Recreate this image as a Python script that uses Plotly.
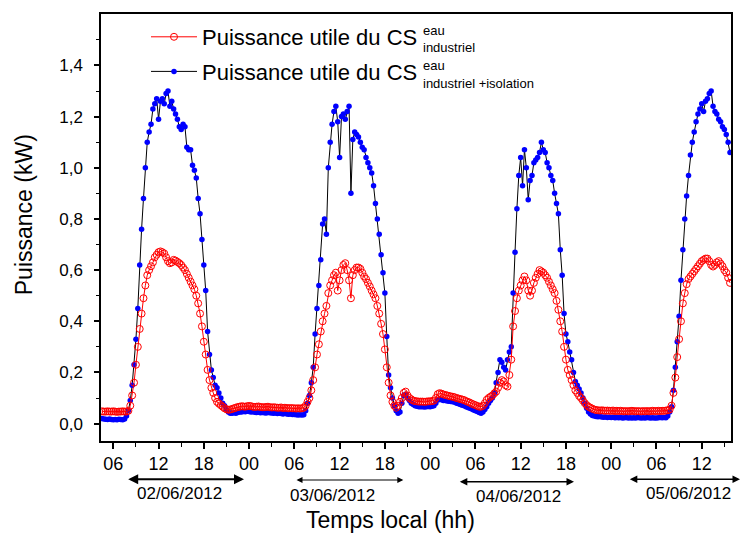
import numpy as np
import plotly.graph_objects as go

# ---------------- data (15-min samples, hours since 02/06/2012 00:00) ----------------
start_hour = 4.5
step_hour = 0.25

# Puissance utile du CS eau industriel + isolation (kW)
blue_isolation = [
    0.020, 0.018,                      # h4
    0.017, 0.016, 0.018, 0.016,        # h5
    0.015, 0.016, 0.015, 0.017,        # h6
    0.016, 0.015, 0.018, 0.030,        # h7
    0.050, 0.090, 0.150, 0.230,        # h8
    0.330, 0.450, 0.620, 0.760,        # h9
    0.880, 1.000, 1.100, 1.140,        # h10
    1.170, 1.230, 1.250, 1.270,        # h11
    1.190, 1.260, 1.270, 1.250,        # h12
    1.290, 1.300, 1.240, 1.260,        # h13
    1.230, 1.210, 1.190, 1.160,        # h14
    1.150, 1.170, 1.160, 1.080,        # h15
    1.070, 1.070, 1.010, 0.990,        # h16
    0.960, 0.880, 0.820, 0.720,        # h17
    0.620, 0.520, 0.360, 0.270,        # h18
    0.210, 0.180, 0.150, 0.140,        # h19
    0.120, 0.100, 0.080, 0.070,        # h20
    0.055, 0.045, 0.040, 0.040,        # h21
    0.042, 0.040, 0.043, 0.045,        # h22
    0.045, 0.047, 0.046, 0.048,        # h23
    0.047, 0.045, 0.046, 0.044,        # h24
    0.043, 0.044, 0.042, 0.043,        # h25
    0.042, 0.041, 0.043, 0.042,        # h26
    0.041, 0.040, 0.041, 0.039,        # h27
    0.040, 0.039, 0.038, 0.040,        # h28
    0.038, 0.037, 0.038, 0.036,        # h29
    0.036, 0.035, 0.034, 0.035,        # h30
    0.034, 0.035, 0.050, 0.080,        # h31
    0.110, 0.160, 0.220, 0.350,        # h32
    0.450, 0.540, 0.640, 0.780,        # h33
    0.800, 0.740, 1.000, 1.100,        # h34
    1.170, 1.220, 1.240, 1.180,        # h35
    1.040, 1.200, 1.210, 1.190,        # h36
    1.220, 1.240, 0.900, 1.110,        # h37
    1.140, 1.130, 1.120, 1.100,        # h38
    1.080, 1.070, 1.040, 1.020,        # h39
    1.000, 0.980, 0.930, 0.860,        # h40
    0.800, 0.740, 0.660, 0.590,        # h41
    0.510, 0.340, 0.190, 0.140,        # h42
    0.100, 0.070, 0.050, 0.040,        # h43
    0.045, 0.080, 0.110, 0.115,        # h44
    0.100, 0.090, 0.080, 0.075,        # h45
    0.070, 0.068, 0.066, 0.066,        # h46
    0.066, 0.065, 0.066, 0.067,        # h47
    0.066, 0.068, 0.070, 0.080,        # h48
    0.092, 0.094, 0.093, 0.090,        # h49
    0.090, 0.088, 0.087, 0.086,        # h50
    0.085, 0.083, 0.080, 0.078,        # h51
    0.075, 0.072, 0.070, 0.066,        # h52
    0.063, 0.060, 0.057, 0.053,        # h53
    0.050, 0.047, 0.043, 0.040,        # h54
    0.045, 0.055, 0.066, 0.080,        # h55
    0.090, 0.100, 0.119, 0.160,        # h56
    0.200, 0.250, 0.240, 0.220,        # h57
    0.210, 0.250, 0.280, 0.300,        # h58
    0.510, 0.670, 0.840, 0.970,        # h59
    1.040, 0.930, 1.070, 1.000,        # h60
    0.875, 0.950, 0.970, 1.020,        # h61
    1.030, 1.040, 1.060, 1.100,        # h62
    1.070, 1.060, 1.020, 1.000,        # h63
    0.970, 0.950, 0.900, 0.860,        # h64
    0.820, 0.680, 0.580, 0.430,        # h65
    0.350, 0.320, 0.280, 0.250,        # h66
    0.200, 0.165, 0.150, 0.135,        # h67
    0.120, 0.100, 0.080, 0.060,        # h68
    0.045, 0.038, 0.032, 0.030,        # h69
    0.028, 0.027, 0.028, 0.026,        # h70
    0.025, 0.026, 0.024, 0.025,        # h71
    0.024, 0.025, 0.023, 0.024,        # h72
    0.023, 0.024, 0.022, 0.023,        # h73
    0.024, 0.022, 0.023, 0.022,        # h74
    0.023, 0.022, 0.024, 0.023,        # h75
    0.022, 0.023, 0.022, 0.024,        # h76
    0.023, 0.022, 0.023, 0.022,        # h77
    0.022, 0.023, 0.024, 0.023,        # h78
    0.024, 0.023, 0.030, 0.045,        # h79
    0.066, 0.130, 0.220, 0.320,        # h80
    0.420, 0.560, 0.680, 0.800,        # h81
    0.890, 0.970, 1.050, 1.100,        # h82
    1.140, 1.180, 1.210, 1.230,        # h83
    1.250, 1.220, 1.260, 1.270,        # h84
    1.290, 1.300, 1.240, 1.220,        # h85
    1.210, 1.190, 1.180, 1.160,        # h86
    1.150, 1.130, 1.100, 1.060,        # h87
]

# Puissance utile du CS eau industriel (kW)
red_industriel = [
    0.048, 0.047,                      # h4
    0.047, 0.048, 0.047, 0.047,        # h5
    0.048, 0.047, 0.046, 0.047,        # h6
    0.047, 0.048, 0.047, 0.047,        # h7
    0.050, 0.070, 0.110, 0.160,        # h8
    0.230, 0.300, 0.370, 0.430,        # h9
    0.490, 0.540, 0.580, 0.600,        # h10
    0.615, 0.630, 0.650, 0.660,        # h11
    0.670, 0.673, 0.670, 0.665,        # h12
    0.650, 0.635, 0.627, 0.630,        # h13
    0.640, 0.637, 0.632, 0.627,        # h14
    0.620, 0.610, 0.600, 0.585,        # h15
    0.570, 0.555, 0.540, 0.525,        # h16
    0.500, 0.470, 0.430, 0.380,        # h17
    0.320, 0.270, 0.210, 0.170,        # h18
    0.140, 0.120, 0.100, 0.085,        # h19
    0.078, 0.072, 0.066, 0.060,        # h20
    0.056, 0.054, 0.055, 0.057,        # h21
    0.060, 0.062, 0.065, 0.066,        # h22
    0.068, 0.067, 0.066, 0.068,        # h23
    0.069, 0.068, 0.066, 0.065,        # h24
    0.066, 0.067, 0.065, 0.064,        # h25
    0.064, 0.065, 0.066, 0.064,        # h26
    0.063, 0.064, 0.063, 0.062,        # h27
    0.062, 0.063, 0.061, 0.062,        # h28
    0.061, 0.060, 0.061, 0.060,        # h29
    0.060, 0.059, 0.060, 0.059,        # h30
    0.060, 0.062, 0.070, 0.085,        # h31
    0.100, 0.130, 0.170, 0.220,        # h32
    0.270, 0.310, 0.360, 0.400,        # h33
    0.430, 0.460, 0.510, 0.540,        # h34
    0.560, 0.580, 0.590, 0.520,        # h35
    0.560, 0.600, 0.620, 0.627,        # h36
    0.600, 0.560, 0.490, 0.580,        # h37
    0.600, 0.610, 0.610, 0.605,        # h38
    0.590, 0.575, 0.565, 0.550,        # h39
    0.536, 0.520, 0.505, 0.490,        # h40
    0.460, 0.430, 0.390, 0.350,        # h41
    0.290, 0.220, 0.160, 0.110,        # h42
    0.085, 0.070, 0.062, 0.070,        # h43
    0.085, 0.100, 0.120, 0.125,        # h44
    0.110, 0.100, 0.095, 0.090,        # h45
    0.088, 0.087, 0.086, 0.086,        # h46
    0.086, 0.085, 0.086, 0.087,        # h47
    0.087, 0.088, 0.090, 0.100,        # h48
    0.115, 0.119, 0.117, 0.114,        # h49
    0.112, 0.110, 0.108, 0.106,        # h50
    0.105, 0.103, 0.100, 0.098,        # h51
    0.096, 0.094, 0.092, 0.088,        # h52
    0.085, 0.082, 0.078, 0.075,        # h53
    0.072, 0.069, 0.066, 0.066,        # h54
    0.070, 0.080, 0.093, 0.100,        # h55
    0.105, 0.110, 0.118, 0.125,        # h56
    0.140, 0.160, 0.170, 0.165,        # h57
    0.150, 0.145, 0.190, 0.250,        # h58
    0.380, 0.440, 0.490, 0.520,        # h59
    0.540, 0.560, 0.575, 0.560,        # h60
    0.520, 0.500, 0.520, 0.550,        # h61
    0.570, 0.585, 0.600, 0.595,        # h62
    0.590, 0.580, 0.570, 0.555,        # h63
    0.540, 0.525, 0.510, 0.480,        # h64
    0.445, 0.400, 0.360, 0.300,        # h65
    0.250, 0.210, 0.190, 0.170,        # h66
    0.150, 0.130, 0.120, 0.108,        # h67
    0.100, 0.090, 0.080, 0.072,        # h68
    0.066, 0.062, 0.058, 0.055,        # h69
    0.053, 0.052, 0.051, 0.052,        # h70
    0.051, 0.050, 0.051, 0.050,        # h71
    0.050, 0.051, 0.049, 0.050,        # h72
    0.049, 0.050, 0.049, 0.048,        # h73
    0.049, 0.048, 0.049, 0.050,        # h74
    0.049, 0.048, 0.049, 0.048,        # h75
    0.048, 0.049, 0.048, 0.049,        # h76
    0.048, 0.049, 0.050, 0.049,        # h77
    0.049, 0.050, 0.049, 0.050,        # h78
    0.050, 0.051, 0.052, 0.055,        # h79
    0.070, 0.120, 0.180, 0.260,        # h80
    0.330, 0.400, 0.470, 0.510,        # h81
    0.545, 0.565, 0.575, 0.585,        # h82
    0.595, 0.605, 0.615, 0.625,        # h83
    0.635, 0.640, 0.645, 0.645,        # h84
    0.635, 0.620, 0.614, 0.620,        # h85
    0.630, 0.635, 0.625, 0.615,        # h86
    0.600, 0.590, 0.570, 0.550,        # h87
]

assert len(blue_isolation) == len(red_industriel)
time_hours = start_hour + step_hour * np.arange(len(blue_isolation))

x_tick_hours = [6, 12, 18, 24, 30, 36, 42, 48, 54, 60, 66, 72, 78, 84]
x_tick_labels = ["06", "12", "18", "00", "06", "12", "18", "00",
                 "06", "12", "18", "00", "06", "12"]
x_minor_hours = [9, 15, 21, 27, 33, 39, 45, 51, 57, 63, 69, 75, 81, 87]
y_tick_vals = [0.0, 0.2, 0.4, 0.6, 0.8, 1.0, 1.2, 1.4]
y_minor_vals = [0.1, 0.3, 0.5, 0.7, 0.9, 1.1, 1.3, 1.5]
day_labels = ["02/06/2012", "03/06/2012", "04/06/2012", "05/06/2012"]

FONT = "Liberation Sans, Arial, sans-serif"

fig = go.Figure()
fig.add_trace(go.Scatter(
    x=time_hours, y=blue_isolation, mode="lines+markers",
    name="Puissance utile du CS", legendgroup="b", legendrank=2,
    line=dict(color="black", width=1),
    marker=dict(symbol="circle", size=5.5, color="#0000ff", line=dict(width=0)),
))
fig.add_trace(go.Scatter(
    x=time_hours, y=red_industriel, mode="lines+markers",
    name="Puissance utile du CS", legendgroup="a", legendrank=1,
    line=dict(color="#ff0000", width=1),
    marker=dict(symbol="circle-open", size=7, color="#ff0000", line=dict(width=1)),
))

L, R, T, B = 101, 11, 14, 92
W, H = 742, 533
pw, ph = W - L - R, H - T - B

def px(xp):
    return (xp - L) / pw

def py(yp):
    return (H - B - yp) / ph

annotations = []
# stacked super/subscripts of the legend entries
annotations += [
    dict(x=px(421), y=py(30), text="eau", xanchor="left", yanchor="middle"),
    dict(x=px(421), y=py(48), text="industriel", xanchor="left", yanchor="middle"),
    dict(x=px(421), y=py(65.5), text="eau", xanchor="left", yanchor="middle"),
    dict(x=px(421), y=py(84), text="industriel +isolation", xanchor="left", yanchor="middle"),
]
for a in annotations:
    a.update(xref="paper", yref="paper", showarrow=False, font=dict(size=13, family=FONT, color="black"))

# date arrows
arrows = [(126.7, 244.0, 479.3, 2), (295.0, 403.3, 480.0, 1.2),
          (458.3, 574.0, 481.7, 1.5), (628.3, 740.0, 479.3, 1.5)]
for x0, x1, yy, wdt in arrows:
    annotations.append(dict(
        xref="paper", yref="paper", x=px(x1), y=py(yy), ax=-(x1 - x0), ay=0,
        axref="pixel", ayref="pixel", text="", showarrow=True,
        arrowhead=2, startarrowhead=2, arrowside="end+start", arrowsize=1,
        arrowwidth=wdt, arrowcolor="black", standoff=0, startstandoff=0,
    ))
label_pos = [(179.2, 493.7), (332.8, 495.3), (518.7, 496.7), (688.0, 493.7)]
for lab, (xx, yy) in zip(day_labels, label_pos):
    annotations.append(dict(
        xref="paper", yref="paper", x=px(xx), y=py(yy), text=lab,
        showarrow=False, xanchor="center", yanchor="middle",
        font=dict(size=17, family=FONT, color="black"),
    ))

fig.update_layout(
    width=W, height=H,
    margin=dict(l=L, r=R, t=T, b=B),
    paper_bgcolor="white", plot_bgcolor="white",
    separators=",.",
    font=dict(family=FONT, color="black"),
    showlegend=True,
    legend=dict(
        x=px(146), y=py(16), xanchor="left", yanchor="top",
        bgcolor="rgba(0,0,0,0)", borderwidth=0,
        font=dict(size=22, family=FONT, color="black"),
        itemwidth=46, traceorder="grouped", tracegroupgap=3,
    ),
    annotations=annotations,
    xaxis=dict(
        range=[4.37, 87.88], automargin=False,
        tickvals=x_tick_hours, ticktext=x_tick_labels,
        ticks="outside", ticklen=6, tickwidth=1.5, tickcolor="black",
        minor=dict(tickvals=x_minor_hours, ticks="outside", ticklen=4, tickwidth=1.2, tickcolor="black"),
        showline=True, linewidth=1.5, linecolor="black", mirror=True,
        showgrid=False, zeroline=False,
        tickfont=dict(size=18, family=FONT, color="black"),
        title=dict(text="Temps local (hh)" + "&nbsp;" * 8, font=dict(size=23, family=FONT, color="black"),
                   standoff=43),
    ),
    yaxis=dict(
        range=[-0.068, 1.601], automargin=False,
        tickvals=y_tick_vals, tickformat=".1f",
        ticks="outside", ticklen=5, tickwidth=1.5, tickcolor="black",
        minor=dict(tickvals=y_minor_vals, ticks="outside", ticklen=3, tickwidth=1.2, tickcolor="black"),
        showline=True, linewidth=1.5, linecolor="black", mirror=True,
        showgrid=False, zeroline=False,
        tickfont=dict(size=17, family=FONT, color="black"),
        ticklabelstandoff=8,
        title=dict(text="&nbsp;" * 4 + "Puissance (kW)", font=dict(size=23, family=FONT, color="black"),
                   standoff=20),
    ),
)

fig.write_html("out.html")
